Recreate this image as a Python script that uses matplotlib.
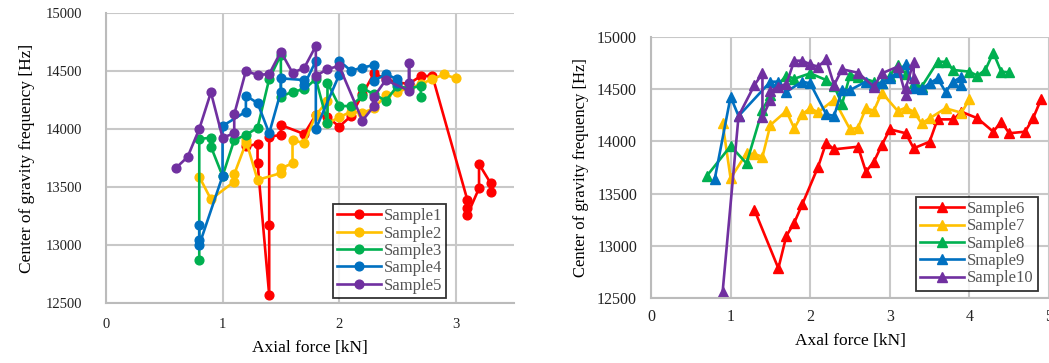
import matplotlib
matplotlib.use("Agg")
import matplotlib.pyplot as plt

# ---------------- Left chart data (circle markers) ----------------
s1_x = [1.2, 1.3, 1.3, 1.4, 1.4, 1.4, 1.5, 1.5, 1.7, 1.8, 1.9, 2.0, 2.1, 2.2, 2.3, 2.4, 2.5, 2.6, 2.7, 2.8,
        3.1, 3.1, 3.1, 3.2, 3.2, 3.3, 3.3]
s1_y = [13850, 13871, 13710, 12569, 13173, 13934, 13948, 14034, 13957, 14121, 14106, 14020, 14110, 14300, 14480,
        14430, 14400, 14390, 14457, 14457, 13388, 13316, 13259, 13489, 13698, 13532, 13459]

s2_x = [0.8, 0.9, 1.1, 1.1, 1.2, 1.2, 1.3, 1.5, 1.5, 1.6, 1.6, 1.7, 1.8, 1.9, 1.9, 2.0, 2.1, 2.2, 2.3, 2.4,
        2.5, 2.6, 2.7, 2.8, 2.9, 3.0]
s2_y = [13589, 13394, 13546, 13610, 13877, 13905, 13561, 13620, 13661, 13704, 13905, 13877, 14121, 14240, 14049,
        14101, 14149, 14140, 14178, 14293, 14322, 14351, 14388, 14430, 14471, 14437]

s3_x = [0.8, 0.8, 0.9, 0.9, 1.0, 1.1, 1.2, 1.3, 1.4, 1.5, 1.5, 1.6, 1.7, 1.8, 1.9, 1.9, 2.0, 2.1, 2.2, 2.2,
        2.3, 2.4, 2.5, 2.6, 2.7, 2.7]
s3_y = [12871, 13914, 13925, 13848, 13595, 13905, 13948, 14011, 14431, 14638, 14278, 14322, 14342, 14431, 14054,
        14399, 14198, 14198, 14285, 14351, 14300, 14244, 14371, 14350, 14371, 14278]

s4_x = [0.8, 0.8, 0.8, 1.0, 1.0, 1.2, 1.2, 1.3, 1.4, 1.5, 1.5, 1.7, 1.7, 1.8, 1.8, 2.0, 2.0, 2.1, 2.2, 2.3,
        2.3, 2.4, 2.5, 2.5]
s4_y = [13173, 13043, 13000, 13595, 14026, 14150, 14287, 14224, 13963, 14322, 14437, 14422, 14379, 14586, 14000,
        14466, 14589, 14503, 14529, 14552, 14414, 14474, 14428, 14400]

s5_x = [0.6, 0.7, 0.8, 0.9, 1.0, 1.1, 1.1, 1.2, 1.3, 1.4, 1.5, 1.6, 1.7, 1.8, 1.8, 1.9, 2.0, 2.2, 2.3, 2.3,
        2.4, 2.6, 2.6, 2.6]
s5_y = [13664, 13759, 14000, 14316, 13925, 13963, 14127, 14500, 14466, 14474, 14666, 14485, 14526, 14716, 14457,
        14517, 14543, 14072, 14200, 14280, 14422, 14330, 14566, 14394]

# ---------------- Right chart data (triangle markers) ----------------
s6_x = [1.3, 1.6, 1.7, 1.8, 1.9, 2.1, 2.2, 2.3, 2.6, 2.7, 2.8, 2.9, 3.0, 3.2, 3.3, 3.5, 3.6, 3.8, 3.9, 4.1,
        4.3, 4.4, 4.5, 4.7, 4.8, 4.9]
s6_y = [13343, 12784, 13094, 13221, 13397, 13757, 13987, 13924, 13949, 13710, 13805, 13965, 14116, 14078, 13934,
        13997, 14211, 14211, 14284, 14222, 14093, 14189, 14078, 14093, 14222, 14403]

s7_x = [0.9, 1.0, 1.2, 1.3, 1.4, 1.5, 1.7, 1.8, 1.9, 2.0, 2.1, 2.3, 2.5, 2.6, 2.7, 2.8, 2.9, 3.1, 3.2, 3.3,
        3.4, 3.5, 3.7, 3.9, 4.0]
s7_y = [14173, 13646, 13886, 13879, 13853, 14157, 14291, 14125, 14262, 14317, 14279, 14400, 14116, 14131, 14317,
        14294, 14467, 14291, 14323, 14284, 14173, 14221, 14317, 14275, 14403]

s8_x = [0.7, 1.0, 1.2, 1.4, 1.5, 1.6, 1.7, 1.8, 2.0, 2.2, 2.3, 2.4, 2.5, 2.6, 2.8, 2.9, 3.0, 3.1, 3.2, 3.3,
        3.4, 3.6, 3.7, 3.8, 4.0, 4.1, 4.2, 4.3, 4.4, 4.5]
s8_y = [13668, 13956, 13790, 14301, 14444, 14547, 14630, 14600, 14652, 14588, 14531, 14358, 14636, 14620, 14572,
        14556, 14630, 14732, 14650, 14556, 14524, 14763, 14763, 14684, 14668, 14630, 14684, 14850, 14668, 14662]

s9_x = [0.8, 1.0, 1.1, 1.5, 1.6, 1.7, 1.9, 2.0, 2.2, 2.3, 2.4, 2.5, 2.7, 2.8, 2.9, 3.0, 3.1, 3.2, 3.3, 3.4,
        3.5, 3.6, 3.7, 3.8, 3.9, 3.9]
s9_y = [13637, 14428, 14243, 14572, 14572, 14476, 14572, 14556, 14262, 14243, 14492, 14492, 14572, 14540, 14560,
        14604, 14668, 14738, 14508, 14499, 14556, 14604, 14476, 14572, 14620, 14540]

s10_x = [0.9, 1.1, 1.3, 1.4, 1.4, 1.5, 1.5, 1.6, 1.7, 1.8, 1.9, 2.0, 2.1, 2.2, 2.3, 2.4, 2.6, 2.8, 2.9, 3.1,
         3.2, 3.2, 3.3, 3.3]
s10_y = [12560, 14243, 14540, 14652, 14231, 14397, 14480, 14524, 14550, 14773, 14773, 14738, 14716, 14786, 14540,
         14691, 14658, 14524, 14652, 14716, 14444, 14508, 14763, 14604]

left_labels = ["Sample1", "Sample2", "Sample3", "Sample4", "Sample5"]
right_labels = ["Sample6", "Sample7", "Sample8", "Smaple9", "Sample10"]
colors = ["#FF0000", "#FFC000", "#00B050", "#0070C0", "#7030A0"]

plt.rcParams['font.family'] = ['Liberation Serif', 'DejaVu Serif']

fig = plt.figure(figsize=(10.49, 3.63), dpi=100)
W, H = 1049, 363
axL = fig.add_axes([106 / W, 1 - 303 / H, 408 / W, 290 / H])
axR = fig.add_axes([651 / W, 1 - 298 / H, 398 / W, 261 / H])

grid_c = "#C8C8C8"


def style(ax, xmax, tick_fs, ypad, xpad):
    ax.set_ylim(12500, 15000)
    ax.set_xlim(0, xmax)
    ax.set_yticks([12500, 13000, 13500, 14000, 14500, 15000])
    ax.set_xticks(list(range(0, int(xmax) + 1)))
    ax.grid(True, color=grid_c, linewidth=1.5)
    ax.set_axisbelow(True)
    for s in ['top', 'right']:
        ax.spines[s].set_visible(False)
    for s in ['left', 'bottom']:
        ax.spines[s].set_color("#BBBBBB")
        ax.spines[s].set_linewidth(1.5)
    ax.tick_params(length=0, labelsize=tick_fs, colors="#222222")
    ax.tick_params(axis='y', pad=ypad)
    ax.tick_params(axis='x', pad=xpad)


style(axL, 3.5, 10.5, 17, 11)
style(axR, 5, 11.5, 10, 8)

left_data = [(s1_x, s1_y), (s2_x, s2_y), (s3_x, s3_y), (s4_x, s4_y), (s5_x, s5_y)]
right_data = [(s6_x, s6_y), (s7_x, s7_y), (s8_x, s8_y), (s9_x, s9_y), (s10_x, s10_y)]

for (x, y), c, lab in zip(left_data, colors, left_labels):
    axL.plot(x, y, '-o', color=c, lw=1.9, ms=6.3, label=lab, clip_on=False)
for (x, y), c, lab in zip(right_data, colors, right_labels):
    axR.plot(x, y, '-^', color=c, lw=1.9, ms=6.5, label=lab, clip_on=False)

axL.set_xlabel("Axial force [kN]", fontsize=12.5, labelpad=6)
axL.set_ylabel("Center of gravity frequency [Hz]", fontsize=12.5, labelpad=8)
axR.set_xlabel("Axal force [kN]", fontsize=12.5, labelpad=6)
axR.set_ylabel("Center of gravity frequency [Hz]", fontsize=12, labelpad=6)

for ax, bbox in [(axL, (333, 204, 119, 95)), (axR, (916, 197, 111, 90))]:
    x0, y0, w, h = bbox
    leg = ax.legend(loc='upper left',
                    bbox_to_anchor=(x0 / W, 1 - y0 / H),
                    bbox_transform=fig.transFigure,
                    fontsize=12, frameon=True, fancybox=False,
                    borderpad=0.25, labelspacing=0.08, handlelength=2.6,
                    handletextpad=0.2, borderaxespad=0)
    leg.get_frame().set_edgecolor("black")
    leg.get_frame().set_linewidth(1.3)
    for t in leg.get_texts():
        t.set_color("#555555")

fig.savefig("out.png", dpi=100)
